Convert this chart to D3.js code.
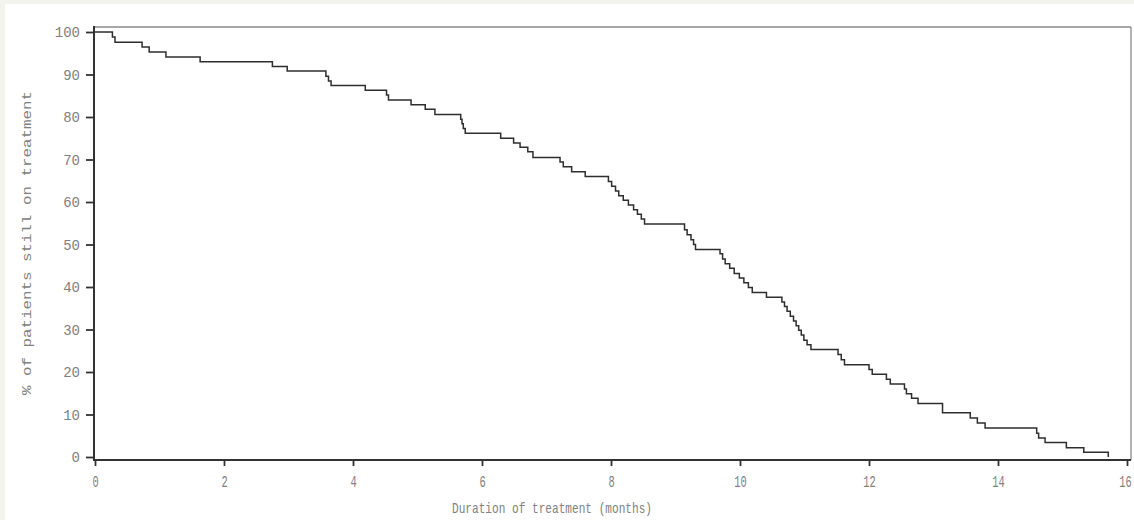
<!DOCTYPE html>
<html>
<head>
<meta charset="utf-8">
<script src="https://cdn.jsdelivr.net/npm/d3@7/dist/d3.min.js"></script>
<style>
  html, body { margin: 0; padding: 0; background: #f4f4ef; }
  svg { display: block; }
</style>
</head>
<body>
<svg id="chart" width="1134" height="520"></svg>
<script>
// Step times (months) and % still on treatment after each step
const eventTimes = [0, 0.27, 0.31, 0.73, 0.84, 1.10, 1.63, 2.75, 2.98, 3.58, 3.62, 3.66,
  4.19, 4.52, 4.55, 4.90, 5.12, 5.27, 5.67, 5.69, 5.71, 5.74, 6.29, 6.49, 6.59, 6.71, 6.79,
  7.21, 7.26, 7.39, 7.60, 7.96, 8.01, 8.07, 8.12, 8.19, 8.27, 8.35, 8.41, 8.47, 8.52,
  9.14, 9.18, 9.24, 9.28, 9.31, 9.69, 9.73, 9.77, 9.84, 9.91, 9.99, 10.06, 10.13, 10.19,
  10.41, 10.65, 10.69, 10.73, 10.78, 10.83, 10.87, 10.91, 10.95, 10.99, 11.04, 11.10,
  11.52, 11.57, 11.62, 12.00, 12.05, 12.27, 12.33, 12.55, 12.58, 12.66, 12.76, 13.14,
  13.57, 13.68, 13.80, 14.60, 14.63, 14.73, 15.06, 15.33, 15.71];
const pctOnTreatment = [100, 98.8, 97.6, 96.5, 95.3, 94.1, 93.0, 91.9, 90.8, 89.6, 88.5, 87.4,
  86.3, 85.2, 84.0, 82.9, 81.8, 80.6, 79.5, 78.4, 77.3, 76.2, 75.0, 73.9, 72.9, 71.8, 70.5,
  69.4, 68.3, 67.1, 66.0, 64.8, 63.7, 62.6, 61.5, 60.4, 59.3, 58.2, 57.1, 56.0, 54.8,
  53.5, 52.3, 51.1, 50.0, 48.8, 47.8, 46.6, 45.5, 44.4, 43.2, 42.1, 41.0, 39.9, 38.7,
  37.6, 36.5, 35.4, 34.3, 33.1, 32.0, 30.9, 29.8, 28.7, 27.5, 26.4, 25.3,
  24.1, 22.9, 21.7, 20.6, 19.5, 18.3, 17.2, 16.0, 14.9, 13.8, 12.6, 10.4,
  9.2, 8.0, 6.8, 5.6, 4.5, 3.4, 2.2, 1.1, 0];
const xTicks = [0, 2, 4, 6, 8, 10, 12, 14, 16];
const yTicks = [0, 10, 20, 30, 40, 50, 60, 70, 80, 90, 100];
const xTitle = "Duration of treatment (months)";
const yTitle = "% of patients still on treatment";

const svg = d3.select("#chart");
const x = d3.scaleLinear().domain([0, 16]).range([95, 1127]);
const y = d3.scaleLinear().domain([0, 100]).range([457, 32]);

const pLeft = 94, pRight = 1131, pTop = 27, pBottom = 460;
const font = "'Liberation Mono', 'DejaVu Sans Mono', monospace";

// white panel
svg.append("rect").attr("x", 5).attr("y", 4).attr("width", 1129).attr("height", 516).attr("fill", "#ffffff");

// frame (top/right lighter)
svg.append("line").attr("x1", pLeft).attr("x2", pRight).attr("y1", pTop).attr("y2", pTop)
  .attr("stroke", "#8a8a8a").attr("stroke-width", 1.3);
svg.append("line").attr("x1", pRight).attr("x2", pRight).attr("y1", pTop).attr("y2", pBottom)
  .attr("stroke", "#8a8a8a").attr("stroke-width", 1.3);

// curve
const data = eventTimes.map((t, i) => [t, pctOnTreatment[i]]);
const line = d3.line().x(d => x(d[0])).y(d => y(d[1])).curve(d3.curveStepAfter);
svg.append("path").datum(data).attr("d", line)
  .attr("fill", "none").attr("stroke", "#2e2e2e").attr("stroke-width", 1.5);

// y axis
const yAxis = svg.append("g").attr("transform", `translate(${pLeft},0)`)
  .call(d3.axisLeft(y).tickValues(yTicks).tickSize(8).tickPadding(6));
yAxis.select(".domain").remove();
yAxis.selectAll(".tick line").attr("stroke", "#333").attr("stroke-width", 1.8);
yAxis.selectAll(".tick text").attr("fill", "#808080").attr("font-family", font)
  .attr("font-size", 14).attr("dy", "0.35em");

// x axis
const xAxis = svg.append("g").attr("transform", `translate(0,${pBottom})`)
  .call(d3.axisBottom(x).tickValues(xTicks).tickSize(6).tickPadding(10));
xAxis.select(".domain").remove();
xAxis.selectAll(".tick line").attr("stroke", "#333").attr("stroke-width", 1.8);
xAxis.selectAll(".tick text").attr("fill", "#808080").attr("font-family", font)
  .attr("font-size", 17).attr("dy", null).attr("y", 27)
  .attr("textLength", d => String(d).length * 6.2).attr("lengthAdjust", "spacingAndGlyphs")
  .attr("x", d => d === 16 ? -2 : 0);

// axis lines (dark)
svg.append("line").attr("x1", pLeft).attr("x2", pLeft).attr("y1", pTop - 1).attr("y2", pBottom + 1)
  .attr("stroke", "#333").attr("stroke-width", 2);
svg.append("line").attr("x1", pLeft - 1).attr("x2", pRight).attr("y1", pBottom).attr("y2", pBottom)
  .attr("stroke", "#333").attr("stroke-width", 2);

// titles
svg.append("text").attr("x", 452).attr("y", 513).text(xTitle)
  .attr("font-family", font).attr("font-size", 15).attr("fill", "#808080")
  .attr("textLength", 200).attr("lengthAdjust", "spacingAndGlyphs");
svg.append("text").attr("transform", "translate(31,395) rotate(-90)").text(yTitle)
  .attr("font-family", font).attr("font-size", 13).attr("fill", "#808080")
  .attr("textLength", 304).attr("lengthAdjust", "spacingAndGlyphs");
</script>
</body>
</html>
